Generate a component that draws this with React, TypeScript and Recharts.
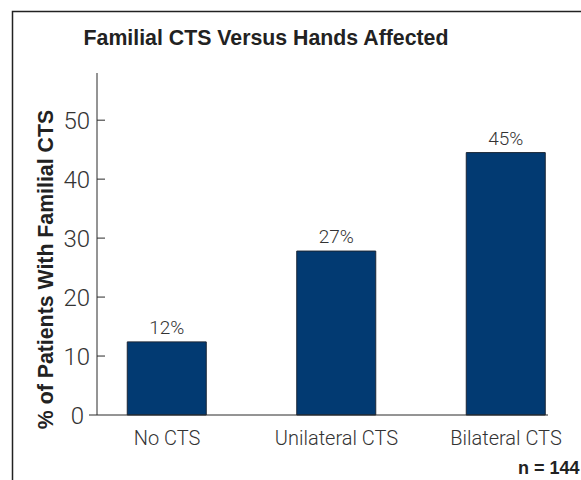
import React from 'react';
import { BarChart, Bar, XAxis, YAxis, LabelList } from 'recharts';

const CATEGORIES = ['No CTS', 'Unilateral CTS', 'Bilateral CTS'];
const VALUES = [12.4, 27.8, 44.5];
const VALUE_LABELS = ['12%', '27%', '45%'];
const Y_TICKS = [0, 10, 20, 30, 40, 50];

const data = CATEGORIES.map((name, i) => ({ name, value: VALUES[i], label: VALUE_LABELS[i] }));

const LIGHT = 'Roboto, "Liberation Sans", Arial, sans-serif';
const BOLD = '"Liberation Sans", Arial, Helvetica, sans-serif';
const AXIS = '#2a2a2a';

const YTick = (props: any) => {
  const { x, y, payload } = props;
  const axisX = x + 7;
  const inward = payload.value !== 0;
  return (
    <g>
      <line
        x1={inward ? axisX : axisX - 8}
        x2={inward ? axisX + 8 : axisX}
        y1={y}
        y2={y}
        stroke={AXIS}
        strokeWidth={1}
      />
      <text x={inward ? x : x - 6} y={y} dy="0.36em" textAnchor="end" fill="#333" fontFamily={LIGHT} fontWeight={300} fontSize={24}>
        {payload.value}
      </text>
    </g>
  );
};

export default function App() {
  return (
    <div style={{ position: 'absolute', left: 0, top: 0, width: 581, height: 480, overflow: 'hidden', background: '#ffffff' }}>
      <div style={{ position: 'absolute', left: 0, top: 0, background: '#ffffff' }}>
        <BarChart width={581} height={480} data={data} margin={{ top: 73, right: 33, bottom: 35, left: 0 }}>
          <XAxis
            dataKey="name"
            height={30}
            tickLine={false}
            axisLine={{ stroke: AXIS, strokeWidth: 1 }}
            tickMargin={10}
            padding={{ left: -14.75, right: -42.75 }}
            tick={{ fill: '#333', fontFamily: LIGHT, fontWeight: 300, fontSize: 20 }}
            interval={0}
          />
          <YAxis
            width={97}
            domain={[0, 58]}
            ticks={Y_TICKS}
            tickLine={false}
            tickSize={0}
            tickMargin={7}
            axisLine={{ stroke: AXIS, strokeWidth: 1 }}
            tick={<YTick />}
            interval={0}
          />
          <Bar dataKey="value" barSize={79} fill="#023A72" stroke="#1b2636" strokeWidth={1} isAnimationActive={false}>
            <LabelList dataKey="label" position="top" offset={8} fill="#333" fontFamily={LIGHT} fontWeight={300} fontSize={19} />
          </Bar>
        </BarChart>
      </div>
      <svg width={581} height={480} style={{ position: 'absolute', left: 0, top: 0, pointerEvents: 'none' }}>
        <path d="M12.5,480 L12.5,11.5 L581,11.5" fill="none" stroke="#222" strokeWidth={1.5} />
        <text x={266} y={45} textAnchor="middle" fontFamily={BOLD} fontWeight="bold" fontSize={21.3} fill="#222">
          Familial CTS Versus Hands Affected
        </text>
        <text
          x={0}
          y={0}
          transform="translate(53,269.5) rotate(-90)"
          textAnchor="middle"
          fontFamily={BOLD}
          fontWeight="bold"
          fontSize={21.3}
          fill="#222"
        >
          % of Patients With Familial CTS
        </text>
        <text x={518} y={474} fontFamily={BOLD} fontWeight="bold" fontSize={18} fill="#222">
          n = 144
        </text>
      </svg>
    </div>
  );
}
